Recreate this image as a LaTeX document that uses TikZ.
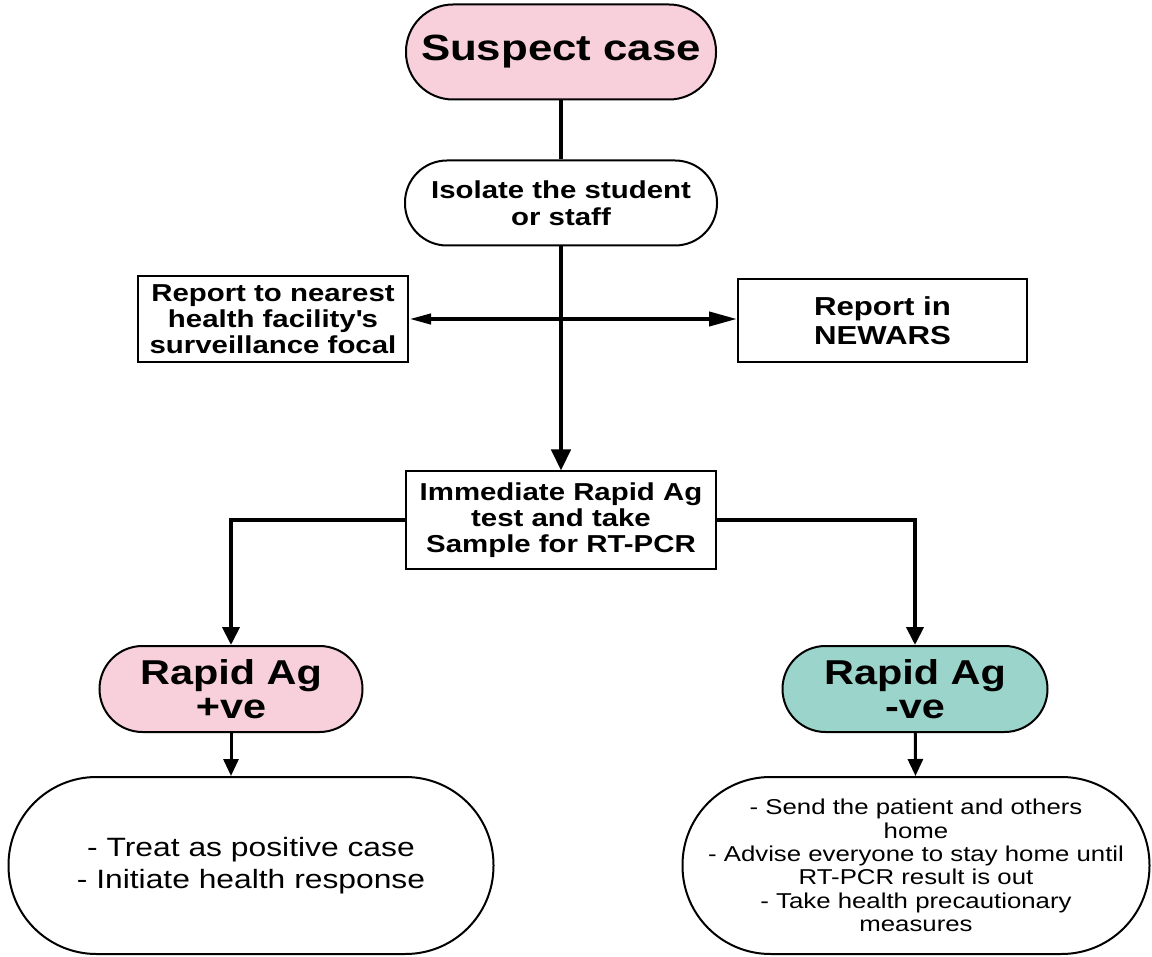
\documentclass[tikz,border=0pt]{standalone}
\usepackage{fontspec}
\setmainfont{Liberation Sans}[FakeStretch=1.2]
\usepackage{xcolor}
\usepackage{tikz}
\usetikzlibrary{arrows.meta}

\definecolor{casepink}{HTML}{F8D0DC}
\definecolor{negteal}{HTML}{9AD4CA}

\begin{document}
\begin{tikzpicture}[x=1pt,y=-1pt]
                \tikzset{Terminal/.style={%
                    shape=rectangle,%
                    draw=black,%
                    line width=2pt,%
                    rounded corners=43pt,%
                    inner sep=0pt,%
                    align=center,%
                    font=\bfseries\fontsize{24.5}{27}\selectfont,%
                }}
                \tikzset{Report/.style={%
                    shape=rectangle,%
                    draw=black,%
                    line width=2pt,%
                    inner sep=0pt,%
                    align=center,%
                    font=\bfseries\fontsize{24.5}{26}\selectfont,%
                }}
                \tikzset{Outcome/.style={%
                    Terminal,%
                    rounded corners=88pt,%
                    minimum height=177pt,%
                    font=\fontsize{21.5}{23.3}\selectfont,%
                }}
                \tikzset{Flow/.style={%
                    line width=4.5pt,%
                    rounded corners=0pt,%
                }}

                \useasboundingbox (0,0) rectangle (1152,957);

                \node[Terminal, fill=casepink, rounded corners=47pt, minimum width=310pt, minimum height=95pt, font=\bfseries\fontsize{36.5}{40}\selectfont] (suspect) at (561,52) {Suspect case};
                \node[Terminal, below of=suspect, node distance=151pt, rounded corners=42pt, minimum width=312pt, minimum height=85pt] (isolate) {Isolate the student\\or staff};
                \node[Report, minimum width=270pt, minimum height=86pt] (facility) at (273,319) {Report to nearest\\health facility\textquotesingle s\\surveillance focal};
                \node[Report, minimum width=289pt, minimum height=83pt, font=\bfseries\fontsize{26}{29}\selectfont] (newars) at (882.5,320.5) {Report in\\NEWARS};
                \node[Report, below of=isolate, node distance=317pt, minimum width=310pt, minimum height=97pt] (rapidtest) {Immediate Rapid Ag\\test and take\\Sample for RT-PCR};
                \node[Terminal, fill=casepink, minimum width=263pt, minimum height=86pt, font=\bfseries\fontsize{34.5}{34}\selectfont] (agpos) at (231,689) {Rapid Ag\\+ve};
                \node[Terminal, fill=negteal, minimum width=265pt, minimum height=86pt, font=\bfseries\fontsize{34.5}{34}\selectfont] (agneg) at (915,689) {Rapid Ag\\-ve};
                \node[Outcome, minimum width=485pt, font=\fontsize{26.5}{32}\selectfont] (treat) at (251,865.5) {- Treat as positive case\\- Initiate health response};
                \node[Outcome, minimum width=467pt] (sendhome) at (916,865.5) {- Send the patient and others\\home\\- Advise everyone to stay home until\\RT-PCR result is out\\- Take health precautionary\\measures};

                \draw[Flow] (suspect) -- (isolate);
                \draw[Flow, -{Triangle[length=21pt,width=19pt]}] (isolate) -- (rapidtest);
                \draw[Flow, line width=4pt, {Triangle[length=22pt,width=10pt]}-{Triangle[length=28pt,width=14pt]}] (facility.east) -- (facility.east -| newars.west);
                \draw[Flow, line width=4pt, -{Triangle[length=18pt,width=17pt]}] (rapidtest.west) -| (agpos);
                \draw[Flow, line width=4pt, -{Triangle[length=18pt,width=17pt]}] (rapidtest.east) -| (agneg);
                \draw[Flow, line width=3pt, -{Triangle[length=17pt,width=15pt]}] (agpos) -- (agpos |- treat.north);
                \draw[Flow, line width=3pt, -{Triangle[length=17pt,width=15pt]}] (agneg) -- (sendhome);
            \end{tikzpicture}
\end{document}
